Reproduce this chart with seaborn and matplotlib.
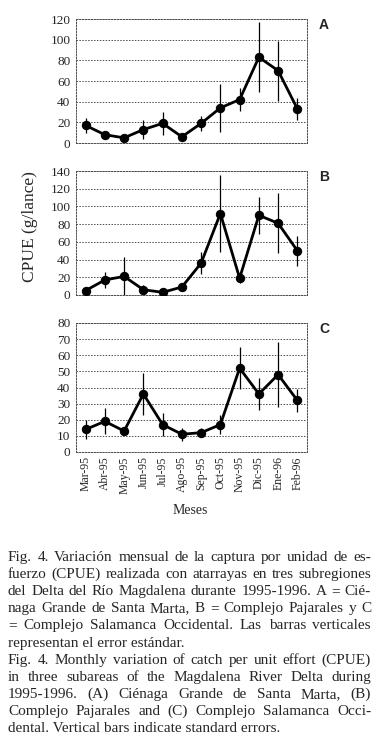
import numpy as np
import pandas as pd
import matplotlib
matplotlib.use("Agg")
import matplotlib.pyplot as plt
import seaborn as sns

sns.set_style("white")
plt.rcParams["font.family"] = ["Liberation Serif", "DejaVu Serif"]

# data
meses = ["Mar-95", "Abr-95", "May-95", "Jun-95", "Jul-95", "Ago-95",
         "Sep-95", "Oct-95", "Nov-95", "Dic-95", "Ene-96", "Feb-96"]

cpue_a = [17, 8, 5, 13, 19, 6, 19, 34, 42, 83, 70, 33]
err_a = [7, 2, 2, 9, 11, 2, 7, 23, 11, 34, 29, 11]

cpue_b = [5, 17, 21, 6, 3, 9, 36, 92, 19, 90, 81, 50]
err_b = [2, 9, 22, 5, 2, 2, 12, 44, 6, 21, 34, 17]

cpue_c = [14, 19, 13, 36, 17, 11, 12, 17, 52, 36, 48, 32]
err_c = [6, 8, 2, 13, 7, 4, 3, 6, 13, 10, 20, 7]

paneles = ["A", "B", "C"]
ymax = [120, 140, 80]
ystep = [20, 20, 10]

caption = [
    "Fig. 4. Variación mensual de la captura por unidad de es-",
    "fuerzo (CPUE) realizada con atarrayas en tres subregiones",
    "del Delta del Río Magdalena durante 1995-1996. A = Cié-",
    "naga Grande de Santa Marta, B = Complejo Pajarales y C",
    "= Complejo Salamanca Occidental. Las barras verticales",
    "representan el error estándar.",
    "Fig. 4. Monthly variation of catch per unit effort (CPUE)",
    "in three subareas of the Magdalena River Delta during",
    "1995-1996. (A) Ciénaga Grande de Santa Marta, (B)",
    "Complejo Pajarales and (C) Complejo Salamanca Occi-",
    "dental. Vertical bars indicate standard errors.",
]
last_lines = [5, 10]  # not justified

W, H = 379, 754
fig = plt.figure(figsize=(W / 100, H / 100), dpi=100)

# axes boxes in pixels: left, top, right, bottom
boxes = [(76, 19, 307, 143), (76, 171, 307, 295), (76, 323, 307, 452)]
series = [(cpue_a, err_a), (cpue_b, err_b), (cpue_c, err_c)]

for i, (box, (vals, errs)) in enumerate(zip(boxes, series)):
    l, t, r, b = box
    ax = fig.add_axes([l / W, 1 - b / H, (r - l) / W, (b - t) / H])
    df = pd.DataFrame({"mes": np.arange(len(meses)), "cpue": vals, "se": errs})
    ax.errorbar(df["mes"], df["cpue"], yerr=df["se"], fmt="none",
                ecolor="black", elinewidth=0.9, capsize=0, zorder=2)
    sns.lineplot(data=df, x="mes", y="cpue", ax=ax, color="black",
                 linewidth=2.0, marker="o", markersize=6,
                 markeredgecolor="black", zorder=3)
    ax.set_xlim(-0.5, len(meses) - 0.5)
    ax.set_ylim(0, ymax[i])
    ax.set_yticks(np.arange(0, ymax[i] + 1, ystep[i]))
    ax.yaxis.grid(True, color="0.3", linestyle=(0, (1.5, 1.5)), linewidth=0.7)
    ax.xaxis.grid(False)
    for s in ax.spines.values():
        s.set_linestyle((0, (1.5, 1.5)))
        s.set_linewidth(0.7)
        s.set_color("0.3")
    ax.set_xlabel("")
    ax.set_ylabel("")
    ax.tick_params(axis="y", labelsize=9.5, length=0, pad=4)
    ax.set_xticks(np.arange(len(meses)))
    ax.set_xticks(np.arange(len(meses) + 1) - 0.5, minor=True)
    ax.tick_params(axis="x", which="major", length=0)
    ax.tick_params(axis="x", which="minor", length=3, direction="in", width=0.7)
    if i < 2:
        ax.set_xticklabels([])
    else:
        ax.set_xticklabels(meses, rotation=90, fontsize=8.5)
        ax.tick_params(axis="x", which="major", pad=3)
    fig.text(319 / W, 1 - (box[1] + 6) / H, paneles[i], fontsize=10,
             family=["Liberation Sans"], weight="bold", ha="left", va="center")

fig.text(30 / W, 1 - 227 / H, "CPUE (g/lance)", rotation=90, fontsize=12.5,
         ha="center", va="center")
fig.text(190 / W, 1 - 511 / H, "Meses", fontsize=10, ha="center", va="center")

# justified caption
renderer = fig.canvas.get_renderer()
x0, x1 = 8, 371
y_first, dy = 561, 17.1
fs = 11.0
for k, line in enumerate(caption):
    y = 1 - (y_first + k * dy) / H
    if k in last_lines:
        fig.text(x0 / W, y, line, fontsize=fs, ha="left", va="baseline")
        continue
    words = line.split(" ")
    objs = [fig.text(0, y, w_, fontsize=fs, ha="left", va="baseline") for w_ in words]
    widths = [o.get_window_extent(renderer).width for o in objs]
    gap = (x1 - x0 - sum(widths)) / (len(words) - 1)
    x = x0
    for o, wd in zip(objs, widths):
        o.set_x(x / W)
        x += wd + gap

fig.savefig("out.png", dpi=100, facecolor="white")
